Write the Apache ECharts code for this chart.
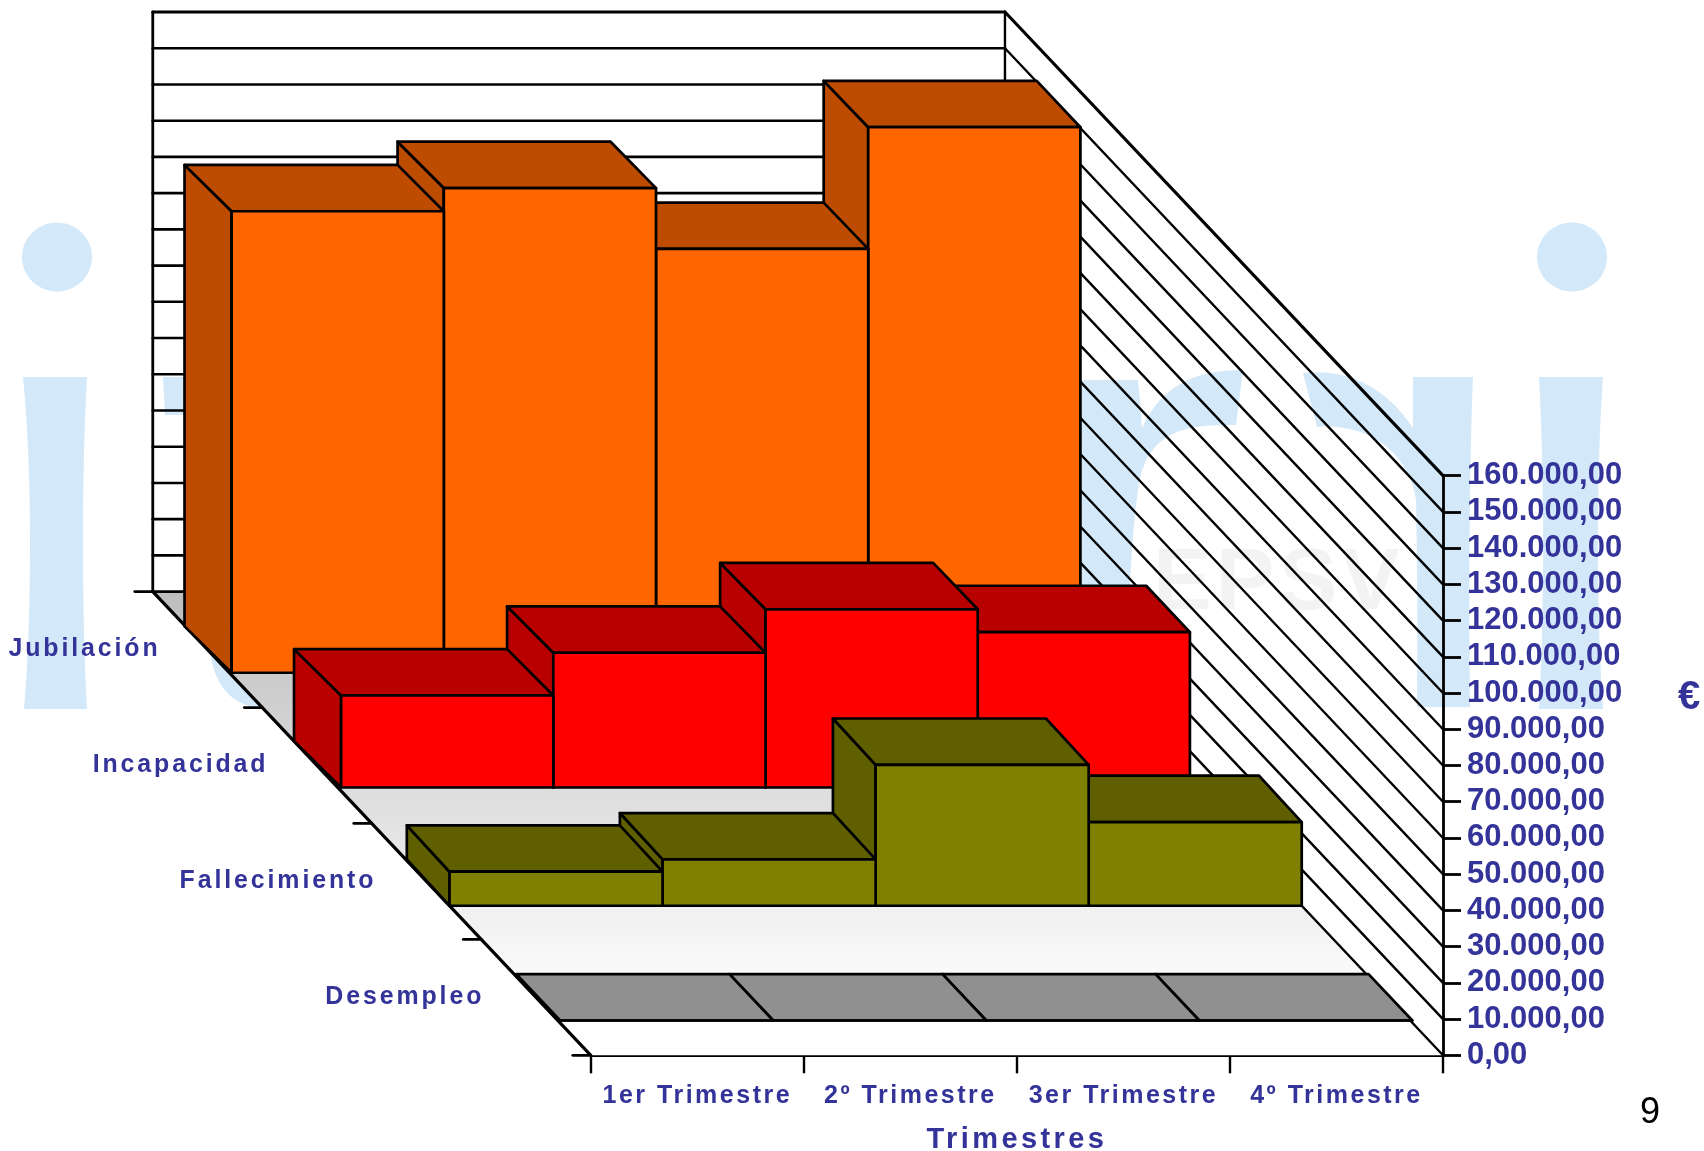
<!DOCTYPE html>
<html>
<head>
<meta charset="utf-8">
<style>html,body{margin:0;padding:0;background:#fff}#chart{width:1704px;height:1151px}</style>
<script src="https://cdn.jsdelivr.net/npm/echarts@6/dist/echarts.min.js"></script>
</head>
<body>
<div id="chart"></div>
<script>
// ---- data ----
const categories = ['1er Trimestre', '2º Trimestre', '3er Trimestre', '4º Trimestre'];
const depthNames = ['Jubilación', 'Incapacidad', 'Fallecimiento', 'Desempleo'];
const jubilacion = [127400, 133800, 117000, 150600];
const incapacidad = [25400, 37200, 49200, 42900];
const fallecimiento = [9400, 12800, 38900, 23100];
const desempleo = [0, 0, 0, 0];
const yTicks = [0, 10000, 20000, 30000, 40000, 50000, 60000, 70000, 80000, 90000, 100000, 110000, 120000, 130000, 140000, 150000, 160000];
const yTickLabels = ['0,00', '10.000,00', '20.000,00', '30.000,00', '40.000,00', '50.000,00', '60.000,00', '70.000,00', '80.000,00', '90.000,00', '100.000,00', '110.000,00', '120.000,00', '130.000,00', '140.000,00', '150.000,00', '160.000,00'];
const depthTicks = [0, 1, 2, 3, 4];

// ---- styles ----
const TEXT = '#333399';
const FONT = '"Liberation Sans", Arial, sans-serif';
const WATER = '#D3E9FA';
const faces = [
  { front: '#FF6600', shade: '#BD4B00' },
  { front: '#FF0000', shade: '#B90000' },
  { front: '#808000', shade: '#5F5F00' },
  { front: '#909090', shade: '#909090' }
];
const DEPTH_COUNT = 4;
const YMAX = 160000;
// where each row's bars sit inside its depth band (the original's projection is slightly uneven)
const barBackX = [0.29, 0.29, 0.32, 0.32];
const barFrontX = [0.72, 0.72, 0.71, 0.72];
const barBackY = [0.30, 0.29, 0.31, 0.30];
const barFrontY = [0.70, 0.69, 0.71, 0.70];
const barFrontSpan = [0.996, 0.996, 1, 1];

// letter-spaced labels (the original's axis text is tracked out)
const tracking = { '25': '2.5px', '24.9': '2.9px', '29': '3.4px', '88': '4px' };
const nativeFill = CanvasRenderingContext2D.prototype.fillText;
CanvasRenderingContext2D.prototype.fillText = function () {
  const m = /(\d+(?:\.\d+)?)px/.exec(this.font);
  this.letterSpacing = (m && tracking[m[1]]) || '0px';
  return nativeFill.apply(this, arguments);
};

// oblique projection: the grid is the front plane, depth shifts it up and left
function projector(api) {
  const bw = api.size([1, 0])[0];
  const plotH = api.size([0, YMAX])[1];
  const stepX = bw * 0.514, stepY = plotH * 0.2;
  return function (cat, value, depth, depthY) {
    const dy = depthY === undefined ? depth : depthY;
    const p = api.coord([0, value]);
    return [p[0] - bw / 2 + cat * bw + (depth - DEPTH_COUNT) * stepX, p[1] + (dy - DEPTH_COUNT) * stepY];
  };
}
const line = (a, b, w, c) => ({
  type: 'line',
  shape: { x1: a[0], y1: a[1], x2: b[0], y2: b[1] },
  style: { stroke: c || '#000', lineWidth: w, lineCap: 'round' }
});
const poly = (pts, fill, w) => ({
  type: 'polygon',
  shape: { points: pts },
  style: { fill: fill, stroke: '#000', lineWidth: w || 2.7, lineJoin: 'round' }
});

function renderFloor(params, api) {
  const P = projector(api);
  return {
    type: 'polygon',
    shape: { points: [P(0, 0, 0), P(DEPTH_COUNT, 0, 0), P(DEPTH_COUNT, 0, DEPTH_COUNT), P(0, 0, DEPTH_COUNT)] },
    style: {
      fill: new echarts.graphic.LinearGradient(0, 0, 0, 1, [
        { offset: 0, color: '#BDBDBD' },
        { offset: 0.87, color: '#FEFEFE' },
        { offset: 1, color: '#FFFFFF' }
      ])
    }
  };
}

function renderWalls(params, api) {
  const P = projector(api);
  const v = api.value(1);
  const top = v === YMAX;
  const children = [
    line(P(0, v, 0), P(DEPTH_COUNT, v, 0), top ? 3 : 2.6),
    line(P(DEPTH_COUNT, v, 0), P(DEPTH_COUNT, v, DEPTH_COUNT), top ? 3.2 : 2.4)
  ];
  if (top) {
    children.push(line(P(0, 0, 0), P(0, YMAX, 0), 2.8));
    children.push(line(P(DEPTH_COUNT, 0, 0), P(DEPTH_COUNT, YMAX, 0), 2.4));
  }
  return { type: 'group', children };
}

function renderDepthAxis(params, api) {
  const P = projector(api);
  const k = api.value(0);
  const a = P(0, 0, k);
  const children = [line([a[0] - 18, a[1]], a, 2.8)];
  if (k === 0) children.push(line(a, P(0, 0, DEPTH_COUNT), 3.2));
  if (k < DEPTH_COUNT) {
    const m = P(0, 0, k + 0.5);
    children.push({
      type: 'text',
      style: {
        text: depthNames[k], x: m[0] - 47 - 1.6 * k, y: m[1],
        align: 'right', verticalAlign: 'middle',
        fill: TEXT, font: 'bold 24.9px ' + FONT
      }
    });
  }
  return { type: 'group', children };
}

function barRenderer(d) {
  return function (params, api) {
    const P = projector(api);
    const i = api.value(0), v = api.value(1);
    const bx = d + barBackX[d], fx = d + barFrontX[d], by = d + barBackY[d], fy = d + barFrontY[d];
    const s = barFrontSpan[d];
    const f = faces[d];
    const lfb = P(i * s, 0, fx, fy), rfb = P((i + 1) * s, 0, fx, fy), lft = P(i * s, v, fx, fy), rft = P((i + 1) * s, v, fx, fy);
    const lbb = P(i, 0, bx, by), lbt = P(i, v, bx, by), rbt = P(i + 1, v, bx, by);
    return {
      type: 'group',
      children: [
        poly([lbb, lbt, lft, lfb], f.shade),
        poly([lbt, rbt, rft, lft], f.shade),
        poly([lft, rft, rfb, lfb], f.front)
      ]
    };
  };
}

const barSeries = [jubilacion, incapacidad, fallecimiento, desempleo].map((vals, d) => ({
  type: 'custom',
  name: depthNames[d],
  silent: true,
  z: 5 + d,
  clip: false,
  renderItem: barRenderer(d),
  // painted right to left so nearer (left) bars overlap farther ones
  data: vals.map((v, i) => [i, v]).reverse()
}));

// ---- watermark (decoration behind the chart) ----
const watermarkPaths = [
  'M23 377 L87 377 Q83 450 83 540 Q83 640 87 709 L24 709 Q30 640 30 540 Q30 450 23 377 Z',
  'M1539 377 L1603 377 Q1598 450 1598 540 Q1598 640 1603 709 L1539 709 Q1543 640 1543 540 Q1543 450 1539 377 Z',
  'M163 377 L184 377 L184 415 L165 415 Z',
  'M210 650 C213 680 228 706 262 708 L300 700 L300 640 Z',
  'M1060 380 L1138 380 Q1140 400 1142 428 C1162 385 1195 370 1243 370 L1236 425 C1190 424 1146 428 1138 490 Q1128 560 1127 707 L1060 707 Z',
  'M1303 373 C1345 368 1385 385 1413 428 L1413 377 L1473 377 Q1468 500 1470 707 L1417 707 Q1418 600 1416 500 C1410 455 1370 422 1317 427 Z'
];
function renderWatermark() {
  return {
    type: 'group',
    children: watermarkPaths.map((d) => ({ type: 'path', shape: { pathData: d }, style: { fill: WATER } }))
  };
}
const decorations = [
  { type: 'ellipse', z: -10, silent: true, shape: { cx: 57, cy: 257, rx: 35, ry: 34.5 }, style: { fill: WATER } },
  { type: 'ellipse', z: -10, silent: true, shape: { cx: 1572, cy: 257, rx: 35, ry: 34.5 }, style: { fill: WATER } },
  { type: 'text', z: -10, silent: true, style: { text: 'EPSV', x: 1153, y: 585, align: 'left', verticalAlign: 'middle', fill: '#F3F3F3', font: 'bold 88px ' + FONT } },
  { type: 'text', silent: true, style: { text: '€', x: 1678, y: 698, align: 'left', verticalAlign: 'middle', fill: TEXT, font: 'bold 40px ' + FONT } },
  { type: 'text', silent: true, style: { text: '9', x: 1650, y: 1113, align: 'center', verticalAlign: 'middle', fill: '#000', font: '36px ' + FONT } }
];

const chart = echarts.init(document.getElementById('chart'), null, { renderer: 'canvas', width: 1704, height: 1151 });
chart.setOption({
  animation: false,
  backgroundColor: '#fff',
  tooltip: { show: false },
  grid: { left: 590.8, right: 261, top: 475.7, bottom: 95.7, containLabel: false, outerBoundsMode: 'none' },
  graphic: { elements: decorations },
  xAxis: {
    type: 'category',
    data: categories,
    boundaryGap: true,
    name: 'Trimestres',
    nameLocation: 'middle',
    nameGap: 70,
    nameTextStyle: { color: TEXT, fontFamily: FONT, fontWeight: 'bold', fontSize: 29 },
    axisLine: { show: true, lineStyle: { color: '#000', width: 3.2 } },
    axisTick: { show: true, length: 18, lineStyle: { color: '#000', width: 2.4 } },
    axisLabel: { show: true, interval: 0, margin: 28, color: TEXT, fontFamily: FONT, fontWeight: 'bold', fontSize: 25 },
    splitLine: { show: false }
  },
  yAxis: {
    type: 'value',
    position: 'right',
    min: 0,
    max: YMAX,
    interval: 10000,
    axisLine: { show: true, lineStyle: { color: '#000', width: 2.8 } },
    axisTick: { show: true, length: 18, lineStyle: { color: '#000', width: 2.8 } },
    axisLabel: {
      show: true, margin: 24, color: TEXT, fontFamily: FONT, fontWeight: 'bold', fontSize: 31,
      padding: [6, 0, 0, 0],
      formatter: (v) => yTickLabels[yTicks.indexOf(v)]
    },
    splitLine: { show: false }
  },
  series: [
    { type: 'custom', silent: true, z: 0, clip: false, renderItem: renderWatermark, data: [[0, 0]] },
    { type: 'custom', silent: true, z: 1, clip: false, renderItem: renderFloor, data: [[0, 0]] },
    { type: 'custom', silent: true, z: 2, clip: false, renderItem: renderWalls, data: yTicks.map((t) => [0, t]) },
    { type: 'custom', silent: true, z: 3, clip: false, renderItem: renderDepthAxis, data: depthTicks.map((k) => [k, 0]) }
  ].concat(barSeries)
});
</script>
</body>
</html>
